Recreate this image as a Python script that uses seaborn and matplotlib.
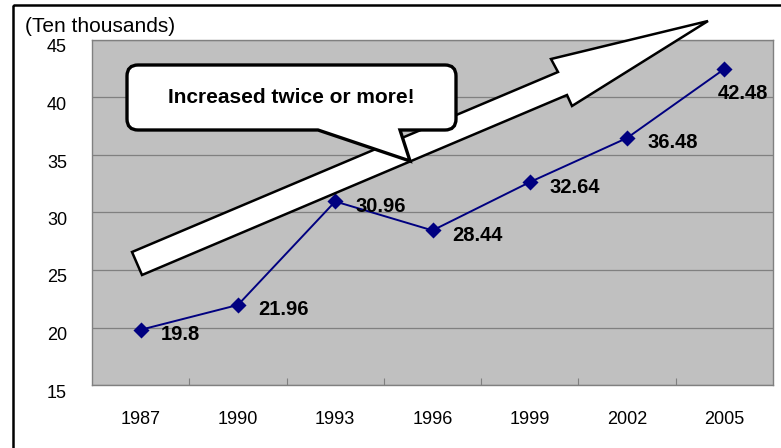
import numpy as np
import pandas as pd
import seaborn as sns
import matplotlib.pyplot as plt
from matplotlib.patches import Polygon, PathPatch, Rectangle
from matplotlib.path import Path
from matplotlib.transforms import Affine2D, ScaledTranslation
from matplotlib.ticker import FixedLocator

# Chart data
years = ["1987", "1990", "1993", "1996", "1999", "2002", "2005"]
values = [19.8, 21.96, 30.96, 28.44, 32.64, 36.48, 42.48]
y_ticks = [15, 20, 25, 30, 35, 40, 45]
unit_label = "(Ten thousands)"
callout_text = "Increased twice or more!"

W, H, DPI = 781, 448, 100

sns.set_theme(style="white")
plt.rcParams["font.family"] = ["Liberation Sans", "DejaVu Sans"]

fig = plt.figure(figsize=(W / DPI, H / DPI), dpi=DPI)
fig.patch.set_facecolor("white")
ax = fig.add_axes([92 / W, 1 - 385 / H, (773 - 92) / W, (385 - 40) / H])
ax.set_facecolor("#C0C0C0")
ax.set_axisbelow(True)

df = pd.DataFrame({"year": years, "value": values})
sns.pointplot(data=df, x="year", y="value", color="#000080", markers="D",
              markersize=7.5, linewidth=1.4, errorbar=None, ax=ax)

ax.set_xlim(-0.5, len(years) - 0.5)
ax.set_ylim(y_ticks[0], y_ticks[-1])
ax.set_yticks(y_ticks)
ax.set_xlabel("")
ax.set_ylabel("")

ax.yaxis.grid(True, color="#808080", lw=0.9)
ax.xaxis.grid(False)
for sp in ax.spines.values():
    sp.set_visible(True)
    sp.set_color("#808080")
    sp.set_linewidth(1.0)

ax.tick_params(axis="y", length=0, pad=18, labelsize=13, labelcolor="black")
ax.tick_params(axis="x", which="major", length=0, pad=19, labelsize=13,
               labelcolor="black")
# small inward ticks at the category boundaries
ax.xaxis.set_minor_locator(FixedLocator(np.arange(0.5, len(years) - 1, 1)))
ax.tick_params(axis="x", which="minor", bottom=True, direction="in", length=5,
               width=0.8, color="#808080")

# nudge y tick labels slightly below their gridlines
shift = ScaledTranslation(0, -6 / DPI, fig.dpi_scale_trans)
for lab in ax.get_yticklabels():
    lab.set_transform(lab.get_transform() + shift)

# value labels
for i, v in enumerate(values):
    last = i == len(values) - 1
    ax.annotate(f"{v:g}", xy=(i, v),
                xytext=(44, -25) if last else (20, -5),
                textcoords="offset pixels",
                ha="right" if last else "left", va="center",
                fontsize=14.5, fontweight="bold", color="black",
                annotation_clip=False)

# pixel coordinates measured from the top-left corner of the figure
pix = Affine2D().scale(1 / W, -1 / H).translate(0, 1) + fig.transFigure

# outer frame
fig.add_artist(Rectangle((13, 5), 800, 470, fill=False, ec="black", lw=1.8,
                         transform=pix, zorder=1))

# unit label
fig.text(25, 27, unit_label, transform=pix, fontsize=15, ha="left",
         va="center", color="black")

# block arrow showing the upward trend
arrow_pts = [(132, 252), (558, 72), (551, 59), (708, 21),
             (572, 106), (567, 95), (142, 275)]
fig.add_artist(Polygon(arrow_pts, closed=True, fc="white", ec="black",
                       lw=1.8, joinstyle="miter", transform=pix, zorder=5))

# speech-bubble callout
x0, x1, y0, y1, r = 127, 456, 65, 130, 11
verts = [
    (x0 + r, y0), (x1 - r, y0),
    (x1, y0), (x1, y0 + r),
    (x1, y1 - r),
    (x1, y1), (x1 - r, y1),
    (400, y1), (410, 161), (318, y1),
    (x0 + r, y1),
    (x0, y1), (x0, y1 - r),
    (x0, y0 + r),
    (x0, y0), (x0 + r, y0),
    (x0 + r, y0),
]
codes = [Path.MOVETO, Path.LINETO,
         Path.CURVE3, Path.CURVE3,
         Path.LINETO,
         Path.CURVE3, Path.CURVE3,
         Path.LINETO, Path.LINETO, Path.LINETO,
         Path.LINETO,
         Path.CURVE3, Path.CURVE3,
         Path.LINETO,
         Path.CURVE3, Path.CURVE3,
         Path.CLOSEPOLY]
fig.add_artist(PathPatch(Path(verts, codes), fc="white", ec="black", lw=2.4,
                         joinstyle="miter", transform=pix, zorder=6))
fig.text((x0 + x1) / 2, 97.5, callout_text, transform=pix, fontsize=15,
         fontweight="bold", ha="center", va="center", color="black", zorder=7)

fig.savefig("out.png", dpi=DPI)
